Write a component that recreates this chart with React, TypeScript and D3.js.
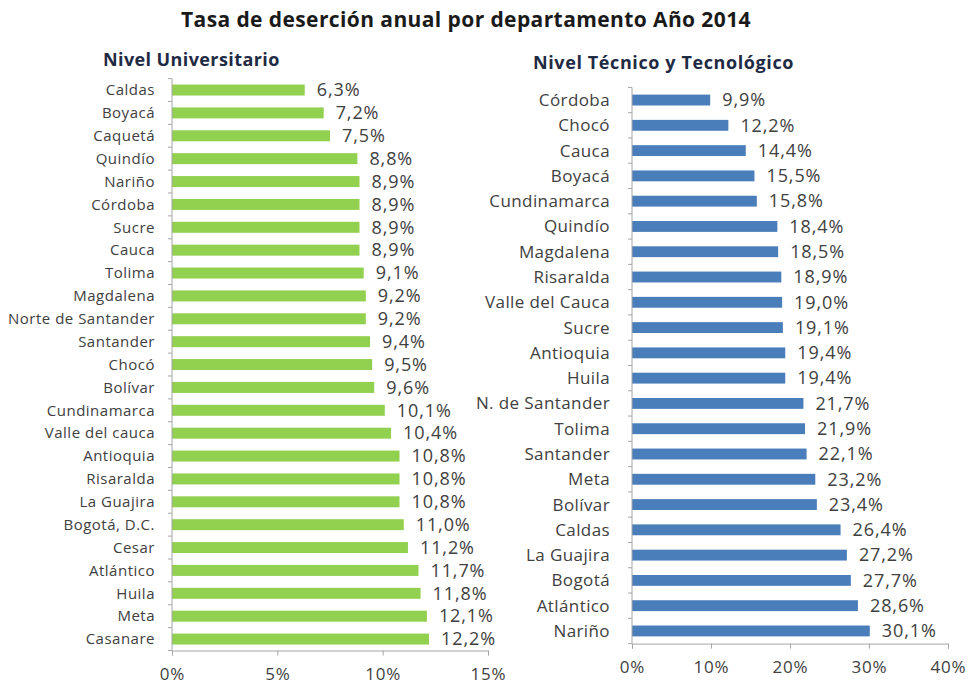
import * as d3 from 'd3';
import React, { useEffect, useRef } from 'react';

// Nivel Universitario
const uniCategories = ['Caldas', 'Boyacá', 'Caquetá', 'Quindío', 'Nariño', 'Córdoba', 'Sucre', 'Cauca', 'Tolima', 'Magdalena', 'Norte de Santander', 'Santander', 'Chocó', 'Bolívar', 'Cundinamarca', 'Valle del cauca', 'Antioquia', 'Risaralda', 'La Guajira', 'Bogotá, D.C.', 'Cesar', 'Atlántico', 'Huila', 'Meta', 'Casanare'];
const uniValues = [6.3, 7.2, 7.5, 8.8, 8.9, 8.9, 8.9, 8.9, 9.1, 9.2, 9.2, 9.4, 9.5, 9.6, 10.1, 10.4, 10.8, 10.8, 10.8, 11.0, 11.2, 11.7, 11.8, 12.1, 12.2];
const uniTicks = [0, 5, 10, 15];

// Nivel Técnico y Tecnológico
const tecCategories = ['Córdoba', 'Chocó', 'Cauca', 'Boyacá', 'Cundinamarca', 'Quindío', 'Magdalena', 'Risaralda', 'Valle del Cauca', 'Sucre', 'Antioquia', 'Huila', 'N. de Santander', 'Tolima', 'Santander', 'Meta', 'Bolívar', 'Caldas', 'La Guajira', 'Bogotá', 'Atlántico', 'Nariño'];
const tecValues = [9.9, 12.2, 14.4, 15.5, 15.8, 18.4, 18.5, 18.9, 19.0, 19.1, 19.4, 19.4, 21.7, 21.9, 22.1, 23.2, 23.4, 26.4, 27.2, 27.7, 28.6, 30.1];
const tecTicks = [0, 10, 20, 30, 40];

const FONT = "'Open Sans', sans-serif";
const locale = d3.formatLocale({ decimal: ',', thousands: '.', grouping: [3], currency: ['', ''] });
const fmt = locale.format('.1f');

const drawPanel = (svg, opts) => {
  const { cats, vals, ticks, x0, x1, y0, y1, color, pad, catSize, catSpacing, catOffset, valSize } = opts;
  const x = d3.scaleLinear().domain([0, ticks[ticks.length - 1]]).range([x0, x1]);
  const y = d3.scaleBand().domain(cats).range([y0, y1]).paddingInner(pad).paddingOuter(pad / 2);
  const g = svg.append('g');

  g.selectAll('.bar')
    .data(cats)
    .enter()
    .append('rect')
    .attr('x', x(0))
    .attr('y', d => y(d))
    .attr('width', (d, i) => x(vals[i]) - x(0))
    .attr('height', y.bandwidth())
    .attr('fill', color);

  // y axis line + ticks at band boundaries
  g.append('line')
    .attr('x1', x0).attr('x2', x0).attr('y1', y0).attr('y2', y1)
    .attr('stroke', '#a6a6a6');
  const step = y.step();
  d3.range(cats.length + 1).forEach(i => {
    g.append('line')
      .attr('x1', x0 - 4).attr('x2', x0)
      .attr('y1', y0 + i * step).attr('y2', y0 + i * step)
      .attr('stroke', '#a6a6a6');
  });

  // x axis
  const xAxis = d3.axisBottom(x).tickValues(ticks).tickSize(5).tickFormat(d => d + '%');
  const ax = g.append('g').attr('transform', `translate(0,${y1})`).call(xAxis);
  ax.select('.domain').attr('stroke', '#a6a6a6');
  ax.selectAll('line').attr('stroke', '#a6a6a6');
  ax.selectAll('text')
    .attr('y', 17)
    .attr('fill', '#404040')
    .style('font-family', FONT)
    .style('font-size', '17px')
    .style('letter-spacing', '0.8px');

  // category labels
  g.selectAll('.cat')
    .data(cats)
    .enter()
    .append('text')
    .attr('x', x0 - catOffset)
    .attr('y', d => y(d) + y.bandwidth() / 2)
    .attr('dy', '0.35em')
    .attr('text-anchor', 'end')
    .attr('fill', '#404040')
    .style('font-family', FONT)
    .style('font-size', catSize + 'px')
    .style('letter-spacing', catSpacing + 'px')
    .text(d => d);

  // value labels
  g.selectAll('.val')
    .data(cats)
    .enter()
    .append('text')
    .attr('x', (d, i) => x(vals[i]) + 12)
    .attr('y', d => y(d) + y.bandwidth() / 2)
    .attr('dy', '0.35em')
    .attr('fill', '#404040')
    .style('font-family', FONT)
    .style('font-size', valSize + 'px')
    .style('letter-spacing', '0.9px')
    .text((d, i) => fmt(vals[i]) + '%');
};

const App = () => {
  const ref = useRef(null);

  useEffect(() => {
    const svg = d3.select(ref.current);
    svg.selectAll('*').remove();

    svg.append('rect').attr('width', 971).attr('height', 684).attr('fill', '#ffffff');

    svg.append('text')
      .attr('x', 466).attr('y', 27)
      .attr('text-anchor', 'middle')
      .attr('fill', '#1a1a1a')
      .style('font-family', FONT)
      .style('font-weight', 'bold')
      .style('font-size', '21px')
      .style('letter-spacing', '0.4px')
      .text('Tasa de deserción anual por departamento Año 2014');

    svg.append('text')
      .attr('x', 103).attr('y', 66)
      .attr('fill', '#1f2a44')
      .style('font-family', FONT)
      .style('font-weight', 'bold')
      .style('font-size', '18px')
      .style('letter-spacing', '0.4px')
      .text('Nivel Universitario');

    svg.append('text')
      .attr('x', 533).attr('y', 69)
      .attr('fill', '#1f2a44')
      .style('font-family', FONT)
      .style('font-weight', 'bold')
      .style('font-size', '18px')
      .style('letter-spacing', '0.6px')
      .text('Nivel Técnico y Tecnológico');

    drawPanel(svg, {
      cats: uniCategories, vals: uniValues, ticks: uniTicks,
      x0: 172, x1: 488, y0: 78.6, y1: 650.5,
      color: '#92d050', pad: 0.52, catSize: 15, catSpacing: 0.5, catOffset: 17, valSize: 18
    });

    drawPanel(svg, {
      cats: tecCategories, vals: tecValues, ticks: tecTicks,
      x0: 632, x1: 948, y0: 87.4, y1: 643.6,
      color: '#4a7ebb', pad: 0.57, catSize: 17, catSpacing: 0.4, catOffset: 22, valSize: 18
    });
  }, []);

  return (
    <svg ref={ref} width={971} height={684} style={{ position: 'absolute', left: 0, top: 0 }}></svg>
  );
};

export default App;
